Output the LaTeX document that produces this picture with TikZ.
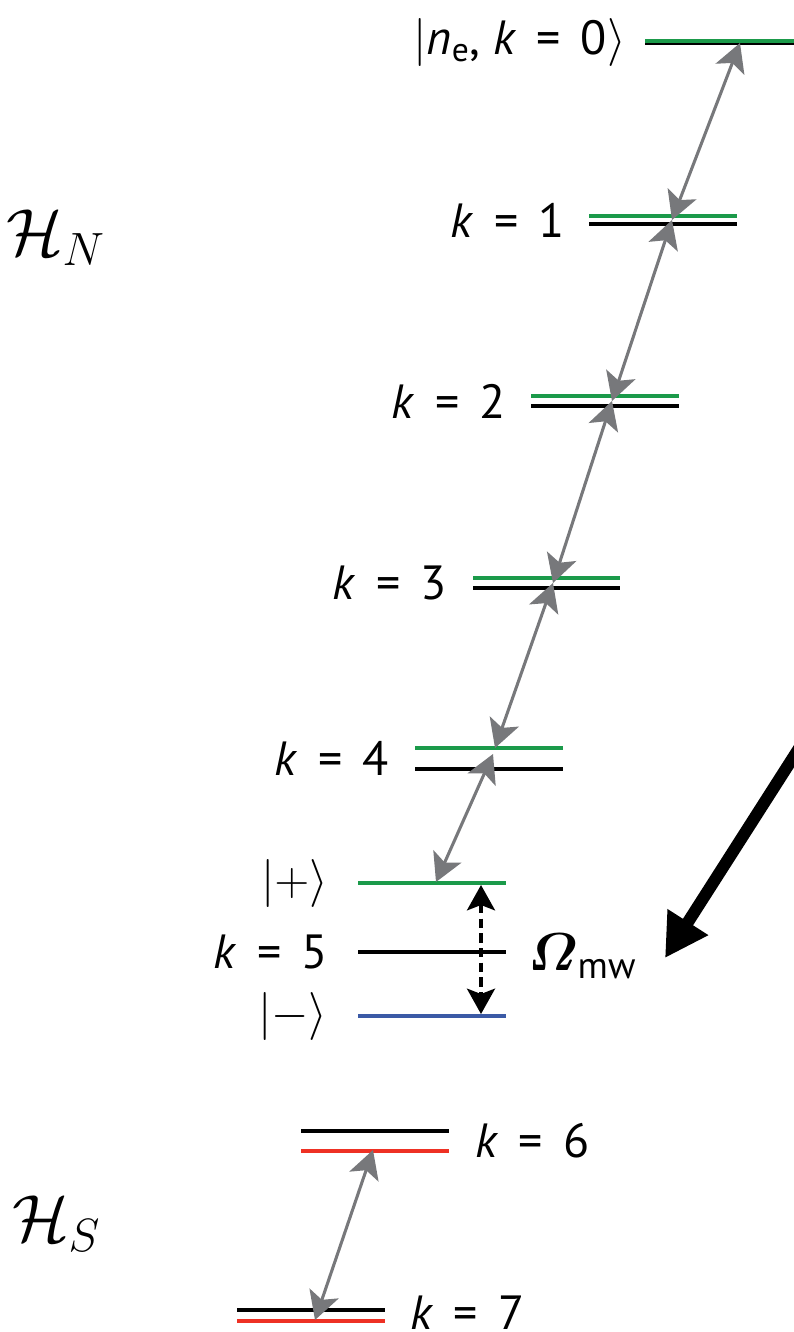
\RequirePackage{fix-cm}
\documentclass[tikz,border=0pt]{standalone}
\usepackage{amsmath,bm}
\usepackage{fontspec}
\setmainfont{PT Sans}
\usetikzlibrary{arrows.meta, positioning}
\definecolor{cgreen}{HTML}{1B9A4A}
\definecolor{cblue}{HTML}{3B5AA6}
\definecolor{cred}{HTML}{EE3124}
\definecolor{cgrey}{HTML}{77787B}
\newcommand{\keq}[1]{\textit{k}\hspace{0.42em}=\hspace{0.42em}#1}
\tikzset{
  every picture/.style={x=0.75pt, y=-0.75pt},
  lvl/.style={draw=#1, line width=3pt},
  lvl/.default=black,
  trans/.style={{Stealth[length=21pt, width=23pt, inset=5pt]}-{Stealth[length=21pt, width=23pt, inset=5pt]}, draw=cgrey, line width=2.3pt},
  drive/.style={{Stealth[length=19pt, width=21pt, inset=4pt]}-{Stealth[length=19pt, width=21pt, inset=4pt]}, draw=black, line width=2.6pt, dash pattern=on 7pt off 4pt},
  bigarrow/.style={-{Triangle[length=32pt, width=34pt]}, draw=black, line width=9pt},
  klabel/.style={font=\fontsize{36}{40}\selectfont, inner sep=0pt},
  hlabel/.style={font=\fontsize{50}{58}\selectfont, inner sep=0pt},
}

\begin{document}
\begin{tikzpicture}
  \useasboundingbox (0,0) rectangle (793,1332);
  % levels of H_N
  \draw[lvl] (645,42.5) -- (800,42.5);
  \draw[lvl=cgreen] (645,40.5) -- (800,40.5);
  \draw[lvl=cgreen] (589,216) -- (737,216);
  \draw[lvl] (589,224) -- (737,224);
  \draw[lvl=cgreen] (531,396) -- (679,396);
  \draw[lvl] (531,406) -- (679,406);
  \draw[lvl=cgreen] (473,578) -- (620,578);
  \draw[lvl] (473,588) -- (620,588);
  \draw[lvl=cgreen] (415,748) -- (563,748);
  \draw[lvl] (415,769) -- (563,769);
  \draw[lvl=cgreen] (358,883) -- (506,883);
  \draw[lvl] (358,952) -- (506,952);
  \draw[lvl=cblue] (358,1016) -- (506,1016);
  % levels of H_S
  \draw[lvl] (301,1131) -- (449,1131);
  \draw[lvl=cred] (301,1151) -- (449,1151);
  \draw[lvl] (237,1310) -- (385,1310);
  \draw[lvl=cred] (237,1321) -- (385,1321);

  \node[klabel, anchor=east] (lk0) at (626,42) {$|$\textit{n}\textsubscript{e}, \keq{0}$\rangle$};
  \node[klabel, anchor=east] (lk1) at (565,220) {\keq{1}};
  \node[klabel, anchor=east] (lk2) at (506,401) {\keq{2}};
  \node[klabel, anchor=east] (lk3) at (447,583) {\keq{3}};
  \node[klabel, anchor=east] (lk4) at (389,758) {\keq{4}};
  \node[klabel, anchor=east] (lplus) at (328,883) {$|{+}\rangle$};
  \node[klabel, anchor=east] (lk5) at (328,952) {\keq{5}};
  \node[klabel, anchor=east] (lminus) at (328,1016) {$|{-}\rangle$};
  \node[klabel, anchor=west] (lk6) at (475,1141) {\keq{6}};
  \node[klabel, anchor=west] (lk7) at (410,1313) {\keq{7}};
  \node[hlabel, anchor=west] (hn) at (6,238) {$\mathcal{H}_N$};
  \node[hlabel, anchor=west] (hs) at (12,1224) {$\mathcal{H}_S$};
  \node[font=\fontsize{40}{46}\selectfont, inner sep=0pt, anchor=west] (omega) at (528,956) {$\bm{\varOmega}$\textsubscript{mw}};

  % ladder of couplings
  \coordinate (t0) at (740,43);
  \coordinate (t1) at (672,220);
  \coordinate (t2) at (612,401);
  \coordinate (t3) at (553,583);
  \coordinate (t4a) at (495,748);
  \coordinate (t4b) at (493,754);
  \coordinate (t5) at (436,882);
  \coordinate (t6) at (373,1150);
  \coordinate (t7) at (315,1320);
  \draw[trans] (t0) -- (t1);
  \draw[trans] (t1) -- (t2);
  \draw[trans] (t2) -- (t3);
  \draw[trans] (t3) -- (t4a);
  \draw[trans] (t4b) -- (t5);
  \draw[trans] (t6) -- (t7);

  \coordinate (dup) at (481,885);
  \coordinate (ddown) at (481,1014);
  \draw[drive] (dup) -- (ddown);

  \coordinate (mwsrc) at (812,728);
  \coordinate (mwtip) at (665,958);
  \draw[bigarrow] (mwsrc) -- (mwtip);
\end{tikzpicture}
\end{document}
